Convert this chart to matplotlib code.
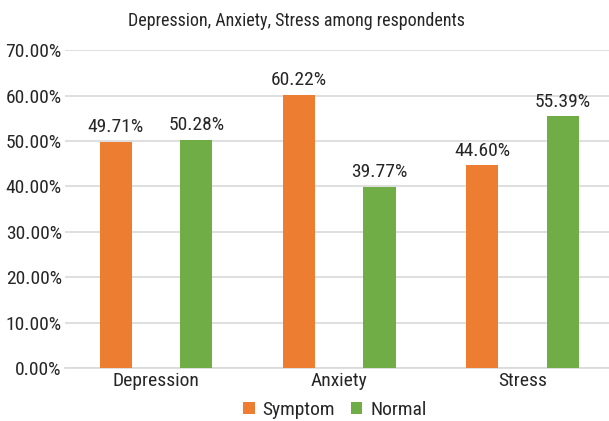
import matplotlib.pyplot as plt
import numpy as np

plt.rcParams['font.family'] = ['Roboto Condensed', 'Liberation Sans', 'DejaVu Sans']

categories = ['Depression', 'Anxiety', 'Stress']
symptom = [49.71, 60.22, 44.60]
normal = [50.28, 39.77, 55.39]

x = np.arange(len(categories))
w = 0.175
txt_color = '#262626'

fig = plt.figure(figsize=(6.09, 4.21), dpi=100)
ax = fig.add_axes([0.106, 0.126, 0.902, 0.755])

b1 = ax.bar(x - 0.22, symptom, w, color='#ED7D31', label='Symptom', zorder=3)
b2 = ax.bar(x + 0.22, normal, w, color='#70AD47', label='Normal', zorder=3)

# value labels above each bar
for bars, vals in [(b1, symptom), (b2, normal)]:
    for b, v in zip(bars, vals):
        ax.text(b.get_x() + b.get_width() / 2, v + 1.3, f'{v:.2f}%',
                ha='center', va='bottom', fontsize=14, color=txt_color)

ax.set_ylim(0, 70)
ax.set_xlim(-0.5, 2.5)
ax.set_yticks(np.arange(0, 71, 10))
ax.set_yticklabels([f'{t:.2f}%' for t in np.arange(0, 71, 10)])
ax.set_xticks(x)
ax.set_xticklabels(categories)
ax.tick_params(axis='both', length=0, labelsize=14, colors=txt_color)
ax.tick_params(axis='y', pad=2)
ax.tick_params(axis='x', pad=3)
ax.grid(axis='y', color='#D9D9D9', linewidth=1.2, zorder=0)
for s in ['top', 'right', 'left']:
    ax.spines[s].set_visible(False)
ax.spines['bottom'].set_color('#D9D9D9')
ax.spines['bottom'].set_linewidth(1.2)

fig.text(0.487, 0.95, 'Depression, Anxiety, Stress among respondents',
         ha='center', va='center', fontsize=13, color=txt_color)

fig.legend(handles=[b1, b2], loc='center', bbox_to_anchor=(0.55, 0.027),
           ncol=2, frameon=False, fontsize=14, handlelength=0.6,
           handleheight=0.6, handletextpad=0.4, columnspacing=0.8,
           labelcolor=txt_color)

fig.savefig('out.png', dpi=100)
